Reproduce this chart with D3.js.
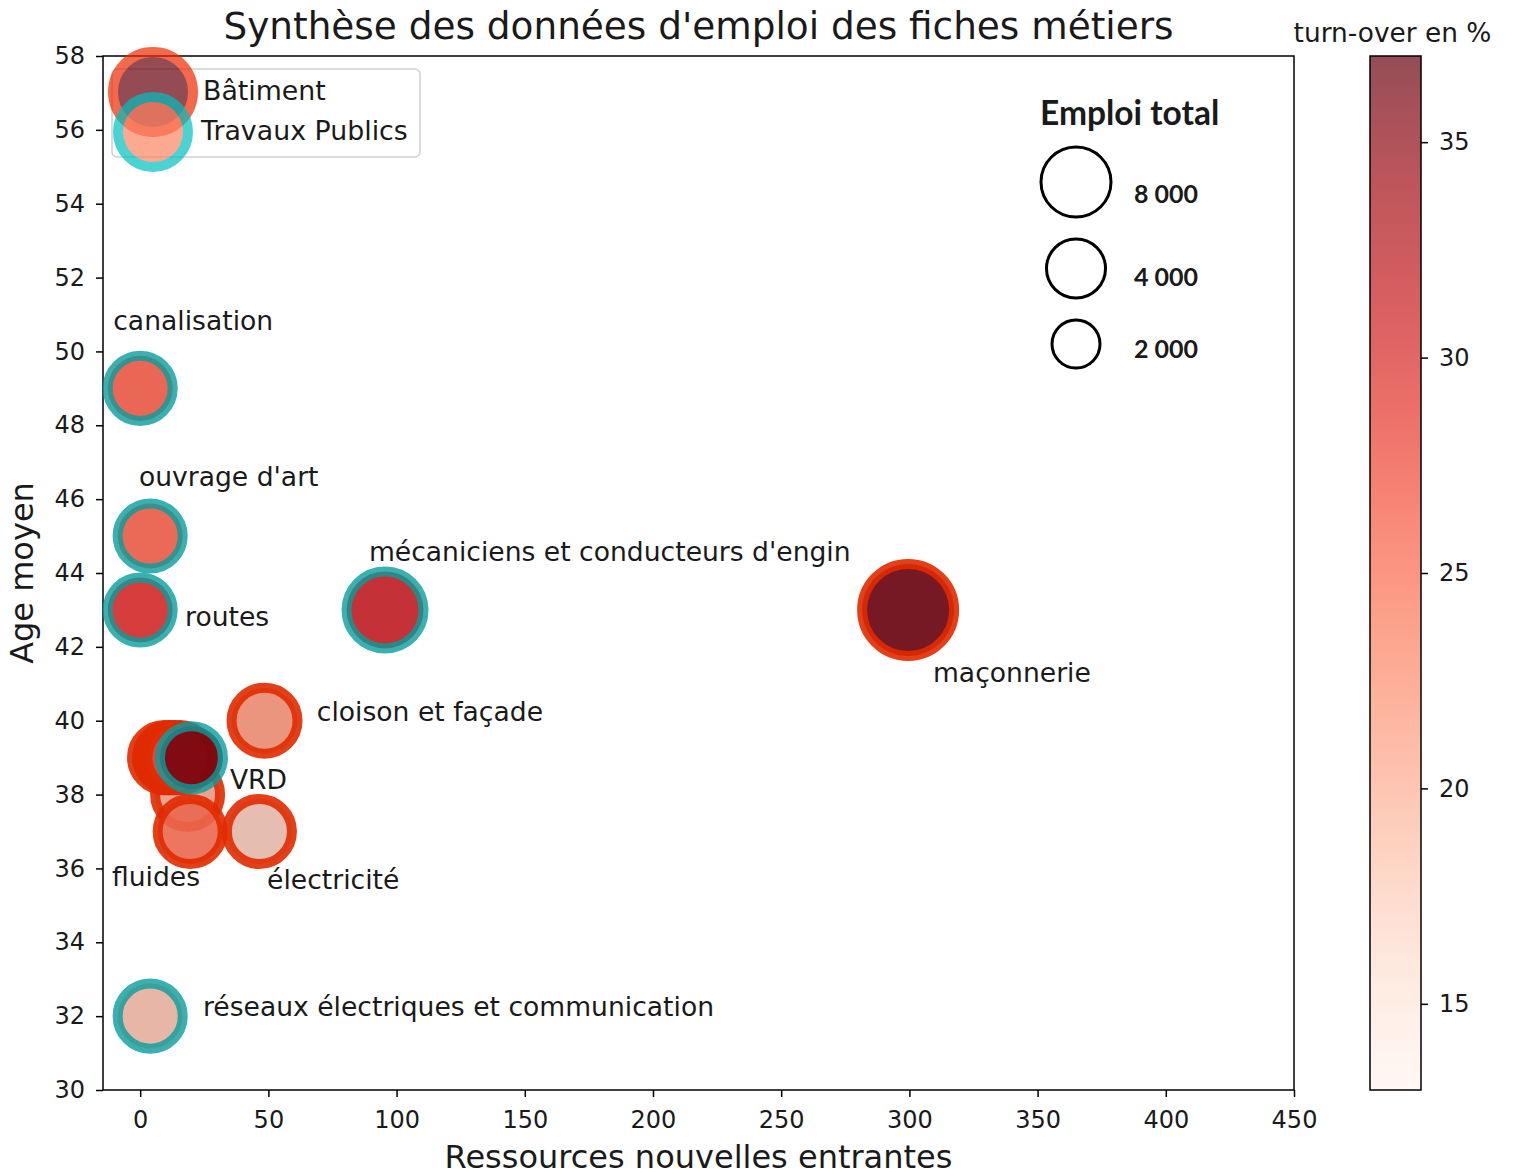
<!DOCTYPE html>
<html>
<head>
<meta charset="utf-8">
<script src="https://cdn.jsdelivr.net/npm/d3@7"></script>
<style>
  body { margin: 0; background: #fff; }
  text { font-family: "DejaVu Sans", sans-serif; fill: #1a1a1a; }
</style>
</head>
<body>
<script>
// ---- data ----
var secteurs = ["Bâtiment", "Travaux Publics"];

var metiers = ["maçonnerie", "", "", "", "", "", "fluides", "électricité", "cloison et façade",
  "canalisation", "ouvrage d'art", "routes", "mécaniciens et conducteurs d'engin", "VRD",
  "réseaux électriques et communication"];
var secteur = [0, 0, 0, 0, 0, 0, 0, 0, 0, 1, 1, 1, 1, 1, 1];
var ressources = [299.5, 18.5, 9.5, 11.5, 13.5, 15.5, 19.5, 46.5, 48.5, 0, 3.9, 0, 95.5, 20, 3.9];
var ageMoyen = [43, 38, 39, 39, 39, 39, 37, 37, 40, 49, 45, 43, 43, 39, 32];
var emploiTotal = [21000, 10500, 10500, 10500, 10500, 10500, 10500, 10500, 10800,
  10500, 10500, 10500, 14700, 9850, 10500];
var turnover = [37, 20.5, 30, 28, 32, 27, 25, 17.5, 22, 26.2, 26, 30, 31.7, 36.3, 18.5];

var legendTurnover = [37, 23];
var xTicks = [0, 50, 100, 150, 200, 250, 300, 350, 400, 450];
var yTicks = [30, 32, 34, 36, 38, 40, 42, 44, 46, 48, 50, 52, 54, 56, 58];
var cTicks = [15, 20, 25, 30, 35];
var sizeLegendValues = [8000, 4000, 2000];
var sizeLegendLabels = ["8 000", "4 000", "2 000"];

// label offsets in data units (text position = point + offset)
var labelOffset = {
  "maçonnerie": [9.7, -1.95],
  "fluides": [-30.5, -1.48],
  "électricité": [3, -1.56],
  "cloison et façade": [20.4, 0],
  "canalisation": [-10.5, 1.58],
  "ouvrage d'art": [-4.4, 1.36],
  "routes": [17.5, -0.43],
  "mécaniciens et conducteurs d'engin": [-6.3, 1.33],
  "VRD": [15, -0.85],
  "réseaux électriques et communication": [20.6, 0]
};

var width = 1513, height = 1176;
var L = 103, R = 1294, T = 56, B = 1090;
var edgeColor = ["#e02a00", "#0a9c9c"];
var edgeOpacity = [0.9, 0.8];
var legendEdge = ["#f02a00", "#00bfbf"];

var svg = d3.select("body").append("svg")
  .attr("width", width).attr("height", height);

var x = d3.scaleLinear().domain([-14.5, 450]).range([L, R]);
var y = d3.scaleLinear().domain([30, 58]).range([B, T]);
var r = d3.scaleSqrt().domain([0, 21000]).range([0, 46]);
var color = d3.scaleSequential(d3.interpolateReds).domain([13, 37]);
// the points look a little duller than the colorbar, mostly the light ones
function pointFill(v) {
  var tn = (v - 13) / 24;
  return d3.interpolateRgb(color(v), "#7a5a66")(0.24 * (1 - tn));
}

// axes
var xAxis = svg.append("g").attr("transform", "translate(0," + B + ")")
  .call(d3.axisBottom(x).tickValues(xTicks).tickSize(7).tickPadding(14));
var yAxis = svg.append("g").attr("transform", "translate(" + L + ",0)")
  .call(d3.axisLeft(y).tickValues(yTicks).tickSize(7).tickPadding(11));
[xAxis, yAxis].forEach(function (g) {
  g.select(".domain").remove();
  g.selectAll("line").attr("stroke", "#000").attr("stroke-width", 1.5);
  g.selectAll("text").style("font-size", "24px").attr("fill", "#1a1a1a");
});

svg.append("rect").attr("x", L).attr("y", T).attr("width", R - L).attr("height", B - T)
  .attr("fill", "none").attr("stroke", "#000").attr("stroke-width", 1.5);

// points
var idx = d3.range(metiers.length);
var order = idx.filter(function (i) { return secteur[i] === 0; })
  .concat(idx.filter(function (i) { return secteur[i] === 1; }));

svg.append("g").selectAll("circle").data(order).enter().append("circle")
  .attr("cx", function (i) { return x(ressources[i]); })
  .attr("cy", function (i) { return y(ageMoyen[i]); })
  .attr("r", function (i) { return r(emploiTotal[i]); })
  .attr("fill", function (i) { return pointFill(turnover[i]); })
  .attr("fill-opacity", 0.9)
  .attr("stroke", function (i) { return edgeColor[secteur[i]]; })
  .attr("stroke-opacity", function (i) { return edgeOpacity[secteur[i]]; })
  .attr("stroke-width", 10);

// labels
svg.append("g").selectAll("text").data(idx.filter(function (i) { return metiers[i] !== ""; }))
  .enter().append("text")
  .attr("x", function (i) { return x(ressources[i] + labelOffset[metiers[i]][0]); })
  .attr("y", function (i) { return y(ageMoyen[i] + labelOffset[metiers[i]][1]); })
  .style("font-size", "26.6px")
  .text(function (i) { return metiers[i]; });

// legend (secteurs)
svg.append("rect").attr("x", 112).attr("y", 69).attr("width", 308).attr("height", 88)
  .attr("rx", 5).attr("fill", "#fff").attr("fill-opacity", 0.8)
  .attr("stroke", "#d0d0d0").attr("stroke-width", 1.5);
var leg = svg.append("g").selectAll("g").data(secteurs).enter().append("g")
  .attr("transform", function (d, k) { return "translate(153," + (92 + k * 40) + ")"; });
leg.append("circle")
  .attr("r", function (d, k) { return k === 0 ? 40 : 35; })
  .attr("fill", function (d, k) { return color(legendTurnover[k]); })
  .attr("stroke", function (d, k) { return legendEdge[k]; })
  .attr("stroke-width", 10)
  .attr("opacity", 0.7);
leg.append("text").attr("x", function (d, k) { return k === 0 ? 50 : 48; }).attr("y", 8)
  .style("font-size", "26.8px").text(function (d) { return d; });

// title and axis labels
svg.append("text").attr("x", (L + R) / 2).attr("y", 39).attr("text-anchor", "middle")
  .style("font-size", "37.4px").text("Synthèse des données d'emploi des fiches métiers");
svg.append("text").attr("x", (L + R) / 2).attr("y", 1168).attr("text-anchor", "middle")
  .style("font-size", "32px").text("Ressources nouvelles entrantes");
svg.append("text").attr("transform", "translate(33," + ((T + B) / 2) + ") rotate(-90)")
  .attr("text-anchor", "middle").style("font-size", "32px").text("Age moyen");

// size legend
var rLeg = d3.scaleLog().domain([2000, 8000]).range([24, 35]);
var sizeG = svg.append("g");
sizeG.append("text").attr("x", 1040).attr("y", 125)
  .style("font-family", "Lato, sans-serif").style("font-weight", "bold").style("font-size", "33.5px")
  .text("Emploi total");
var cy = 182, prev = null;
sizeLegendValues.forEach(function (v, k) {
  var rr = rLeg(v);
  if (prev !== null) cy += prev + rr + 22;
  sizeG.append("circle").attr("cx", 1076).attr("cy", cy).attr("r", rr)
    .attr("fill", "none").attr("stroke", "#000").attr("stroke-width", 3);
  sizeG.append("text").attr("x", 1134).attr("y", cy + rr * 0.6)
    .style("font-family", "Lato, sans-serif").style("font-weight", "bold").style("font-size", "25px")
    .text(sizeLegendLabels[k]);
  prev = rr;
});

// colorbar
var cx0 = 1370, cw = 51;
var cScale = d3.scaleLinear().domain([13, 37]).range([B, T]);
var grad = svg.append("defs").append("linearGradient").attr("id", "cbar")
  .attr("x1", 0).attr("y1", 1).attr("x2", 0).attr("y2", 0);
d3.range(0, 1.0001, 0.05).forEach(function (t) {
  grad.append("stop").attr("offset", t).attr("stop-color", d3.interpolateReds(t))
    .attr("stop-opacity", 0.7);
});
svg.append("rect").attr("x", cx0).attr("y", T).attr("width", cw).attr("height", B - T)
  .attr("fill", "url(#cbar)").attr("stroke", "#000").attr("stroke-width", 1.5);
var cAxis = svg.append("g").attr("transform", "translate(" + (cx0 + cw) + ",0)")
  .call(d3.axisRight(cScale).tickValues(cTicks).tickSize(7).tickPadding(11));
cAxis.select(".domain").remove();
cAxis.selectAll("line").attr("stroke", "#000").attr("stroke-width", 1.5);
cAxis.selectAll("text").style("font-size", "24px").attr("fill", "#1a1a1a");
svg.append("text").attr("x", cx0 + cw / 2 - 3).attr("y", 42).attr("text-anchor", "middle")
  .style("font-size", "26.4px").text("turn-over en %");
</script>
</body>
</html>
